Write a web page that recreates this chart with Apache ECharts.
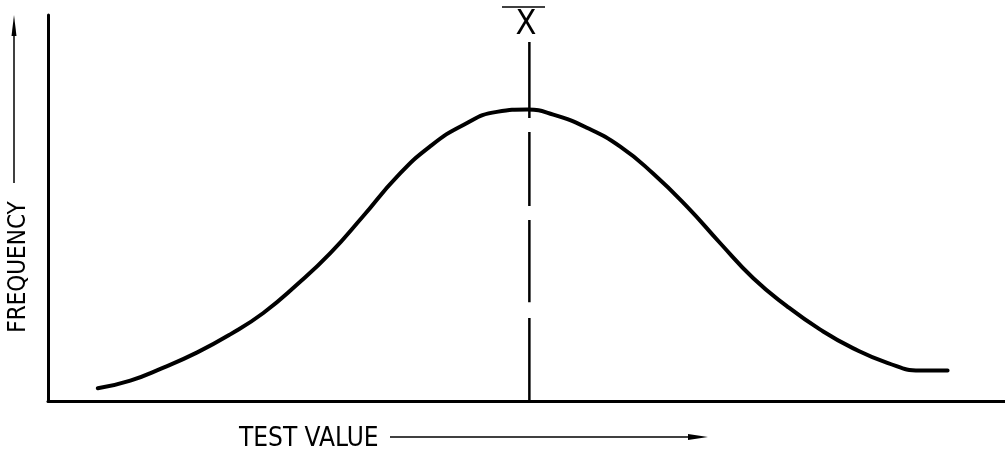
<!DOCTYPE html>
<html>
<head>
<meta charset="utf-8">
<script src="https://cdn.jsdelivr.net/npm/echarts@6/dist/echarts.min.js"></script>
<style>
html, body { margin: 0; padding: 0; background: #fff; }
#chart { width: 1005px; height: 458px; }
</style>
</head>
<body>
<div id="chart"></div>
<script>
// both axes on a 0-100 scale (no ticks shown)
const testValues = [5.2, 8.6, 12.0, 15.6, 19.0, 22.5, 26.0, 29.5, 32.9, 36.5, 39.9, 43.4, 46.9, 50.1, 52.8, 56.3, 59.8, 63.2, 66.8, 70.2, 73.7, 77.2, 80.7, 84.1, 87.7, 91.1, 94.0];
const frequencies = [3.3, 5.3, 8.6, 12.6, 17.2, 22.8, 30.1, 38.3, 47.8, 58.2, 65.9, 71.5, 74.9, 75.5, 74.2, 70.8, 65.9, 59.0, 50.3, 41.0, 31.8, 24.6, 18.5, 13.7, 9.9, 7.9, 7.9];
const meanValue = 50.3;
// mean line: solid stub above the curve, then long dashes down to the axis
const meanSegments = [[93.0, 73.3], [69.7, 50.5], [46.9, 25.6], [21.5, 0]];

const FONT = "'Liberation Sans Narrow', 'DejaVu Sans Condensed', sans-serif";

const curveData = testValues.map((x, i) => [x, frequencies[i]]);
const meanData = [];
meanSegments.forEach(([top, bottom], i) => {
  if (i) meanData.push([meanValue, '-']);
  meanData.push([meanValue, top], [meanValue, bottom]);
});

const axisStyle = {
  show: true,
  axisLine: { show: true, onZero: false, lineStyle: { color: '#000', width: 3 } },
  axisTick: { show: false },
  axisLabel: { show: false },
  splitLine: { show: false },
};

const chart = echarts.init(document.getElementById('chart'));
chart.setOption({
  animation: false,
  backgroundColor: '#fff',
  grid: { left: 48, right: 0, top: 15, bottom: 57 },
  xAxis: { type: 'value', min: 0, max: 100, ...axisStyle },
  yAxis: { type: 'value', min: 0, max: 100, ...axisStyle },
  series: [
    {
      name: 'Frequency',
      type: 'line',
      data: curveData,
      smooth: 0.5,
      symbol: 'none',
      lineStyle: { color: '#000', width: 4, cap: 'round' },
    },
    {
      name: 'Mean',
      type: 'line',
      data: meanData,
      connectNulls: false,
      symbol: 'none',
      lineStyle: { color: '#000', width: 2.5 },
    },
  ],
  graphic: [
    // X-bar over the mean line
    { type: 'line', shape: { x1: 502, y1: 7, x2: 545, y2: 7 }, style: { stroke: '#000', lineWidth: 1.5 } },
    { type: 'text', x: 526, y: 25, style: { text: 'X', font: `34px ${FONT}`, fill: '#000', align: 'center', verticalAlign: 'middle' } },
    // y axis title with arrow
    { type: 'text', x: 19, y: 267, rotation: Math.PI / 2, style: { text: 'FREQUENCY', font: `24px ${FONT}`, fill: '#000', align: 'center', verticalAlign: 'middle' } },
    { type: 'line', shape: { x1: 14, y1: 183, x2: 14, y2: 30 }, style: { stroke: '#000', lineWidth: 1.5 } },
    { type: 'polygon', shape: { points: [[14, 15], [11.5, 36], [16.5, 36]] }, style: { fill: '#000' } },
    // x axis title with arrow
    { type: 'text', x: 239, y: 439, style: { text: 'TEST VALUE', font: `26px ${FONT}`, fill: '#000', align: 'left', verticalAlign: 'middle' } },
    { type: 'line', shape: { x1: 390, y1: 437, x2: 695, y2: 437 }, style: { stroke: '#000', lineWidth: 1.5 } },
    { type: 'polygon', shape: { points: [[708, 437], [688, 434], [688, 440]] }, style: { fill: '#000' } },
  ],
});
</script>
</body>
</html>
